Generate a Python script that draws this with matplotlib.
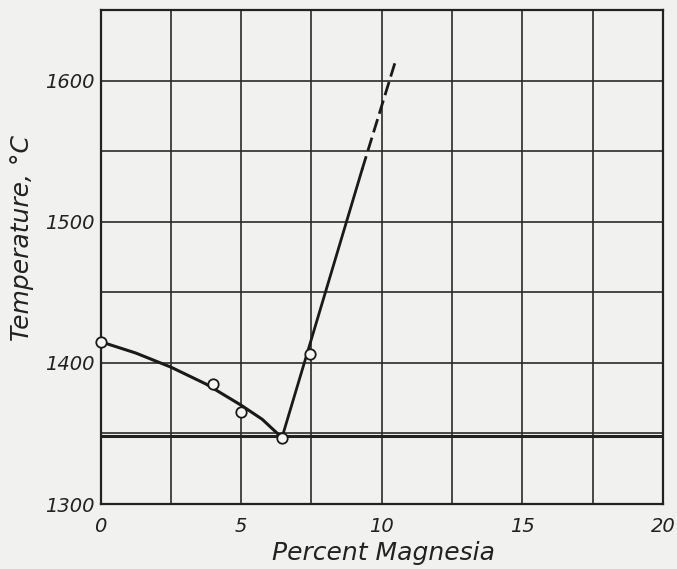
import matplotlib.pyplot as plt

# Data
pct_points = [0, 4.0, 5.0, 6.45, 7.45]
temp_points = [1415, 1385, 1365, 1347, 1406]

# liquidus, left branch (hand-drawn curve)
left_x = [0, 1.25, 2.5, 3.75, 5.0, 5.75, 6.45]
left_t = [1415, 1407, 1397, 1385, 1370, 1360, 1347]

# liquidus, right branch: solid part then dashed extrapolation
right_x = [6.45, 9.3]
right_t = [1347, 1537]
dash_x = [9.3, 10.52]
dash_t = [1537, 1616]

eutectic_t = 1348

xticks = [0, 5, 10, 15, 20]
yticks = [1300, 1400, 1500, 1600]

fig = plt.figure(figsize=(6.77, 5.69), dpi=100)
fig.patch.set_facecolor('#f1f1ef')
ax = fig.add_axes([0.1485, 0.1142, 0.8309, 0.8682])
ax.set_facecolor('#f1f1ef')

ax.set_xlim(0, 20)
ax.set_ylim(1300, 1650)

# grid every 2.5 % and 50 degrees
ax.set_xticks([i * 2.5 for i in range(9)], minor=True)
ax.set_yticks([1300 + 50 * i for i in range(8)], minor=True)
ax.set_xticks(xticks)
ax.set_yticks(yticks)
ax.grid(which='both', color='#2a2a2a', linewidth=1.2)
ax.set_xticklabels([str(v) for v in xticks], fontsize=14, style='italic', color='#222222')
ax.set_yticklabels([str(v) for v in yticks], fontsize=14, style='italic', color='#222222')
ax.tick_params(which='both', length=0)
ax.tick_params(axis='x', pad=9)
ax.tick_params(axis='y', pad=4)
for s in ax.spines.values():
    s.set_color('#222222')
    s.set_linewidth(1.6)

# eutectic line
ax.axhline(eutectic_t, color='#222222', linewidth=2.2, zorder=3)

ax.plot(left_x, left_t, color='#1a1a1a', linewidth=2.2, zorder=4)
ax.plot(right_x, right_t, color='#1a1a1a', linewidth=2.0, zorder=4)
ax.plot(dash_x, dash_t, color='#1a1a1a', linewidth=2.0, linestyle=(0, (5, 2)), zorder=4)

ax.plot(pct_points, temp_points, linestyle='none', marker='o', markersize=7.5,
        markerfacecolor='#f6f6f4', markeredgecolor='#1a1a1a', markeredgewidth=1.3,
        zorder=5, clip_on=False)

fig.text(383 / 677, 1 - 553 / 569, 'Percent Magnesia', fontsize=18, style='italic',
         color='#222222', ha='center', va='center')
fig.text(22 / 677, 1 - 238 / 569, 'Temperature, °C', fontsize=18, style='italic',
         color='#222222', ha='center', va='center', rotation=90)

fig.savefig('out.png', dpi=100, facecolor=fig.get_facecolor())
